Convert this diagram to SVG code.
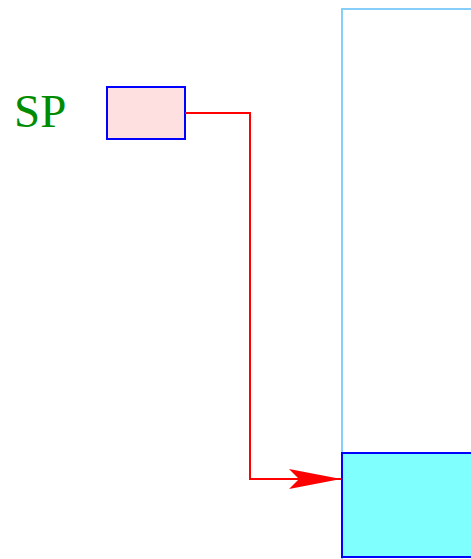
<svg xmlns="http://www.w3.org/2000/svg" width="471" height="559" viewBox="0 0 471 559">
  <style>
    .label { font-family: "Liberation Serif", "Times New Roman", serif; fill: #008c00; }
    .reg { fill: #ffe0e0; stroke: #0000ff; stroke-width: 2; }
    .stack { fill: none; stroke: #87cefa; stroke-width: 2; }
    .cell { fill: #80ffff; stroke: #0000ff; stroke-width: 2; }
    .link { fill: none; stroke: #ff0000; stroke-width: 2; }
  </style>
  <defs>
    <marker id="arrow" markerUnits="userSpaceOnUse" markerWidth="54" markerHeight="24" refX="52" refY="12" orient="auto">
      <path d="M0,2 L52,12 L0,22 L10,12 Z" fill="#ff0000"/>
    </marker>
  </defs>
  <g id="stack">
    <rect class="stack" x="342" y="9" width="140" height="560"/>
  </g>
  <g id="sp">
    <text class="label" x="14" y="127" font-size="47">SP</text>
    <rect class="reg" x="107" y="87" width="78" height="52"/>
  </g>
  <g id="top-cell">
    <rect class="cell" x="342" y="453" width="140" height="104"/>
  </g>
  <g id="connectors">
    <path class="link" d="M185,113 H250 V479 H341" marker-end="url(#arrow)"/>
  </g>
</svg>
